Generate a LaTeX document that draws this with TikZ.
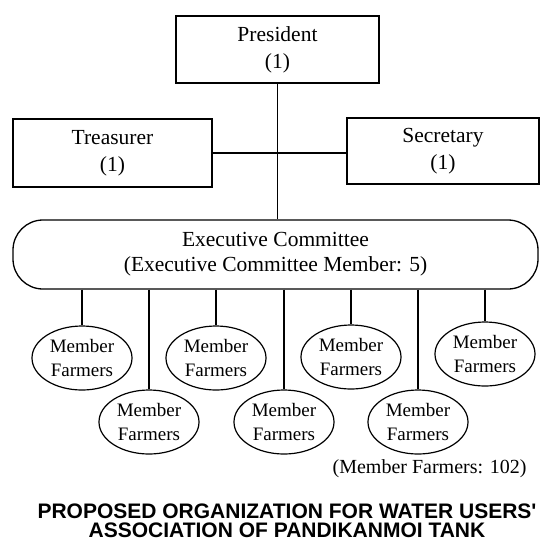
\documentclass[tikz,border=0pt]{standalone}
\usepackage{fontspec}
\setmainfont{Liberation Serif}
\newfontfamily\titlefont{Liberation Sans}
\usetikzlibrary{shapes.geometric}

\tikzset{
  postbox/.style={draw, line width=1.3pt, minimum width=203pt, minimum height=67pt,
    inner sep=0pt, align=center, font=\fontsize{21.5}{27}\selectfont},
  farmer/.style={draw, ellipse, line width=1.2pt, minimum width=100pt, minimum height=64pt,
    inner sep=0pt, align=center, font=\fontsize{19}{24}\selectfont},
  link/.style={line width=1.3pt},
}

\begin{document}
\begin{tikzpicture}[x=1pt,y=-1pt]
\useasboundingbox (0,0) rectangle (540,542);

% Office bearers
\node[postbox] (pres) at (277.5,49.5) {President\\(1)};
\node[postbox, minimum width=199pt, minimum height=68pt] (treas) at (112.5,153) {Treasurer\\(1)};
\node[postbox, minimum width=192pt, minimum height=66pt] (secy) at (443,151) {Secretary\\(1)};

% Executive committee
\node[draw, line width=1.3pt, rounded corners=30pt, minimum width=525pt, minimum height=69pt,
  inner sep=0pt, align=center, font=\fontsize{21.5}{25}\selectfont] (exec) at (275.5,254.5)
  {Executive Committee\\(Executive Committee Member: 5)};

\draw[link] (pres.south) -- (pres.south |- exec.north);
\draw[link] (treas.east) -- (treas.east -| secy.west);

% Member farmers
\node[farmer] (m1) at (82,358) {Member\\Farmers};
\node[farmer] (m2) at (149,422) {Member\\Farmers};
\node[farmer] (m3) at (216,358) {Member\\Farmers};
\node[farmer] (m4) at (284,422) {Member\\Farmers};
\node[farmer] (m5) at (351,357) {Member\\Farmers};
\node[farmer] (m6) at (418,422) {Member\\Farmers};
\node[farmer] (m7) at (485,354) {Member\\Farmers};

\draw[link] (exec.south -| m1.north) -- (m1.north);
\draw[link] (exec.south -| m2.north) -- (m2.north);
\draw[link] (exec.south -| m3.north) -- (m3.north);
\draw[link] (exec.south -| m4.north) -- (m4.north);
\draw[link] (exec.south -| m5.north) -- (m5.north);
\draw[link] (exec.south -| m6.north) -- (m6.north);
\draw[link] (exec.south -| m7.north) -- (m7.north);

\node[anchor=east, font=\fontsize{20}{24}\selectfont] (note) at (530,469) {(Member Farmers: 102)};

% Title
\node[align=center, font=\titlefont\bfseries\fontsize{21}{19.5}\selectfont] (title) at (287,521)
  {PROPOSED ORGANIZATION FOR WATER USERS'\\ASSOCIATION OF PANDIKANMOI TANK};

\end{tikzpicture}
\end{document}
